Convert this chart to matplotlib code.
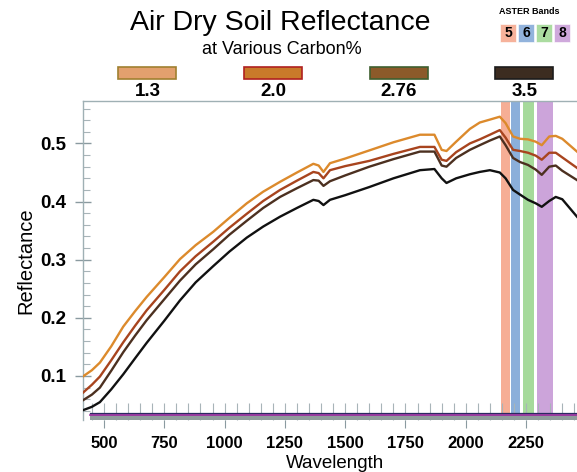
import matplotlib
matplotlib.use("Agg")
import matplotlib.pyplot as plt
from matplotlib.patches import Rectangle
from matplotlib.ticker import MultipleLocator, FormatStrFormatter

plt.rcParams['font.family'] = ['Liberation Sans', 'DejaVu Sans']

# Spectral samples (nm) and reflectance of air-dry soil at four carbon contents
wavelength = [412, 450, 483, 530, 580, 630, 677, 750, 815, 880, 953, 1020, 1092,
              1160, 1230, 1300, 1368, 1390, 1410, 1437, 1500, 1600, 1700, 1810,
              1870, 1900, 1920, 1960, 2017, 2058, 2100, 2141, 2165, 2196, 2225,
              2258, 2290, 2315, 2346, 2373, 2400, 2461, 2490]

refl_c13 = [0.099, 0.110, 0.123, 0.151, 0.185, 0.212, 0.236, 0.270, 0.301, 0.325,
            0.348, 0.372, 0.397, 0.417, 0.434, 0.450, 0.465, 0.462, 0.451, 0.466,
            0.474, 0.488, 0.502, 0.515, 0.515, 0.489, 0.487, 0.503, 0.525, 0.536,
            0.541, 0.546, 0.535, 0.512, 0.508, 0.507, 0.503, 0.497, 0.512, 0.513,
            0.508, 0.486, 0.475]
refl_c20 = [0.071, 0.085, 0.099, 0.127, 0.158, 0.187, 0.213, 0.248, 0.280, 0.306,
            0.331, 0.355, 0.379, 0.401, 0.420, 0.436, 0.451, 0.449, 0.440, 0.454,
            0.461, 0.470, 0.482, 0.494, 0.494, 0.472, 0.470, 0.485, 0.500, 0.507,
            0.515, 0.523, 0.510, 0.489, 0.487, 0.484, 0.479, 0.472, 0.484, 0.484,
            0.476, 0.458, 0.448]
refl_c276 = [0.058, 0.068, 0.080, 0.109, 0.141, 0.170, 0.196, 0.232, 0.264, 0.292,
             0.318, 0.343, 0.367, 0.389, 0.408, 0.423, 0.437, 0.436, 0.427, 0.435,
             0.445, 0.460, 0.473, 0.486, 0.486, 0.462, 0.460, 0.475, 0.489, 0.497,
             0.505, 0.512, 0.497, 0.475, 0.468, 0.463, 0.455, 0.446, 0.460, 0.462,
             0.453, 0.437, 0.428]
refl_c35 = [0.041, 0.047, 0.055, 0.077, 0.103, 0.131, 0.157, 0.195, 0.230, 0.261,
            0.289, 0.314, 0.338, 0.357, 0.374, 0.389, 0.403, 0.401, 0.394, 0.403,
            0.411, 0.425, 0.440, 0.454, 0.456, 0.440, 0.432, 0.440, 0.447, 0.451,
            0.454, 0.450, 0.440, 0.420, 0.412, 0.403, 0.397, 0.391, 0.401, 0.408,
            0.404, 0.374, 0.360]

carbon_labels = ['1.3', '2.0', '2.76', '3.5']
line_colors = ['#dc8a2c', '#a8441e', '#4c3020', '#111111']
patch_fill = ['#e2a06e', '#c97a2a', '#8c5a2a', '#3c2c20']
patch_edge = ['#a08030', '#b02020', '#3f6030', '#1c1c1c']

# ASTER SWIR band ranges (nm)
aster_bands = ['5', '6', '7', '8']
aster_lo = [2145, 2185, 2235, 2295]
aster_hi = [2185, 2225, 2285, 2365]
aster_colors = ['#f5a58a', '#7fa6d6', '#9dd690', '#c79ad6']

W, H = 577, 472
fig = plt.figure(figsize=(W / 100, H / 100), dpi=100)

def fx(px):
    return px / W

def fy(py):
    return 1 - py / H

# axes: left edge at px 83, runs past the right edge of the figure
x0, x1 = 413, 2600
y0, y1 = 0.0243, 0.573
ax_left, ax_top, ax_bottom = 83, 101, 420
ax_right = ax_left + (x1 - x0) * 0.2412
ax = fig.add_axes([fx(ax_left), fy(ax_bottom), (ax_right - ax_left) / W,
                   (ax_bottom - ax_top) / H])
ax.set_xlim(x0, x1)
ax.set_ylim(y0, y1)

for lo, hi, c in zip(aster_lo, aster_hi, aster_colors):
    ax.axvspan(lo + 2, hi - 2, color=c, alpha=0.9, lw=0, zorder=1)

series = [refl_c13, refl_c20, refl_c276, refl_c35]
for vals, c in zip(series, line_colors):
    ax.plot(wavelength, vals, color=c, lw=1.7, zorder=4,
            solid_joinstyle='round')

# grey strip along the bottom of the plot
band_top = 0.1 - (413 - 376) / 581
ax.fill_between([442, x1], y0, band_top, color='#8f9c9c', lw=0, zorder=3)
ax.plot([442, x1], [band_top, band_top], color='#2a2a60', lw=0.9, zorder=3.5)
ax.plot([442, x1], [band_top - 0.004, band_top - 0.004], color='#9a2aa0',
        lw=1.2, zorder=3.5)

spine_c = '#9fb0b4'
for s in ax.spines.values():
    s.set_color(spine_c)
    s.set_linewidth(1.0)
ax.spines['bottom'].set_visible(False)

ax.xaxis.set_major_locator(MultipleLocator(250))
ax.xaxis.set_minor_locator(MultipleLocator(50))
ax.xaxis.remove_overlapping_locs = False
ax.yaxis.set_major_locator(MultipleLocator(0.1))
ax.yaxis.set_minor_locator(MultipleLocator(0.02))
ax.yaxis.set_major_formatter(FormatStrFormatter('%.1f'))
ax.set_xticks([500, 750, 1000, 1250, 1500, 1750, 2000, 2250])
ax.set_yticks([0.1, 0.2, 0.3, 0.4, 0.5])

ax.tick_params(axis='x', which='major', direction='out', length=5.5, width=0.8,
               color='#8a9aa0', pad=6, labelsize=12)
ax.tick_params(axis='x', which='minor', direction='in', length=12, width=0.8,
               color='#a8b4b8')
ax.tick_params(axis='y', which='major', direction='inout', length=12, width=1.0,
               color='#8a9aa0', pad=6, labelsize=13.5)
ax.tick_params(axis='y', which='minor', direction='in', length=5, width=0.8,
               color='#a8b4b8')
for lab in ax.get_xticklabels() + ax.get_yticklabels():
    lab.set_fontweight('bold')

ax.set_xlabel('Wavelength', fontsize=13.5, labelpad=0)
ax.xaxis.set_label_coords((335 - ax_left) / (ax_right - ax_left),
                          -(463 - ax_bottom) / (ax_bottom - ax_top),
                          transform=ax.transAxes)
ax.xaxis.label.set_va('center')
ax.set_ylabel('Reflectance', fontsize=14.5)
ax.yaxis.set_label_coords(-(ax_left - 26) / (ax_right - ax_left), 0.5)
ax.yaxis.label.set_va('center')

# titles
fig.text(fx(280), fy(23), 'Air Dry Soil Reflectance', fontsize=20.5,
         ha='center', va='center')
fig.text(fx(282), fy(49), 'at Various Carbon%', fontsize=13,
         ha='center', va='center')

# carbon legend
patch_x = [118, 244, 370, 495]
label_x = [148, 273, 399, 525]
for i in range(4):
    fig.patches.append(Rectangle((fx(patch_x[i]), fy(79)), 58 / W, 12 / H,
                                 transform=fig.transFigure,
                                 facecolor=patch_fill[i],
                                 edgecolor=patch_edge[i], lw=1.2))
    fig.text(fx(label_x[i]), fy(91.5), carbon_labels[i], fontsize=13.5,
             fontweight='bold', ha='center', va='center')

# ASTER band key
fig.text(fx(499), fy(11), 'ASTER Bands', fontsize=6.5, fontweight='bold',
         ha='left', va='center')
box_x = [500, 518, 536, 554]
for i in range(4):
    fig.patches.append(Rectangle((fx(box_x[i]), fy(42)), 16 / W, 18 / H,
                                 transform=fig.transFigure,
                                 facecolor=aster_colors[i], alpha=0.85,
                                 edgecolor='white', lw=0.5))
    fig.text(fx(box_x[i] + 8), fy(33), aster_bands[i], fontsize=10,
             fontweight='bold', ha='center', va='center')

fig.savefig('out.png', dpi=100)
